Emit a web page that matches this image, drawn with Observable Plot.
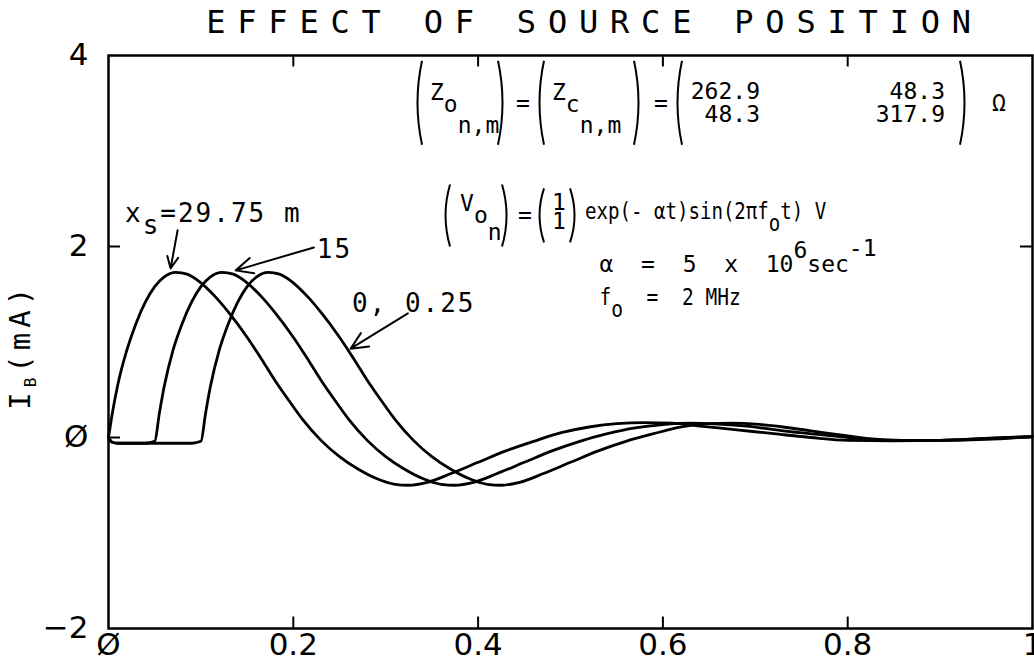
<!DOCTYPE html>
<html>
<head>
<meta charset="utf-8">
<script src="https://cdn.jsdelivr.net/npm/d3@7"></script>
<script src="https://cdn.jsdelivr.net/npm/@observablehq/plot@0.6"></script>
<style>
  body { margin: 0; background: #fff; }
  #chart svg { display: block; }
</style>
</head>
<body>
<div id="chart"></div>
<script>
// Induced current I_B (mA) versus time for three source positions x_s.
// Each series: [time, current] pairs.
const curve2975 = [
  [0.000, 0.00], [0.005, 0.30], [0.010, 0.55], [0.020, 0.92], [0.030, 1.20],
  [0.040, 1.42], [0.050, 1.58], [0.060, 1.68], [0.073, 1.73], [0.085, 1.71],
  [0.100, 1.62], [0.115, 1.48], [0.130, 1.31], [0.150, 1.05], [0.165, 0.83],
  [0.180, 0.60], [0.195, 0.39], [0.210, 0.19], [0.230, -0.03], [0.250, -0.20],
  [0.270, -0.33], [0.290, -0.43], [0.310, -0.49], [0.325, -0.50], [0.345, -0.47],
  [0.370, -0.38], [0.400, -0.26], [0.430, -0.14], [0.460, -0.04], [0.490, 0.05],
  [0.520, 0.11], [0.550, 0.145], [0.580, 0.155], [0.610, 0.15], [0.640, 0.12],
  [0.680, 0.08], [0.720, 0.04], [0.760, 0.00], [0.800, -0.03], [0.850, -0.035],
  [0.900, -0.03], [0.950, -0.01], [1.000, 0.01]
];
const curve15 = [
  [0.000, 0.00], [0.004, -0.05], [0.010, -0.06], [0.040, -0.06], [0.050, -0.04],
  [0.055, 0.25], [0.060, 0.52], [0.070, 0.92], [0.080, 1.20], [0.090, 1.42],
  [0.100, 1.58], [0.110, 1.68], [0.123, 1.73], [0.135, 1.71], [0.150, 1.62],
  [0.165, 1.48], [0.180, 1.31], [0.200, 1.05], [0.215, 0.83], [0.230, 0.60],
  [0.245, 0.39], [0.260, 0.19], [0.280, -0.03], [0.300, -0.20], [0.320, -0.33],
  [0.340, -0.43], [0.360, -0.49], [0.375, -0.50], [0.395, -0.47], [0.420, -0.38],
  [0.450, -0.26], [0.480, -0.14], [0.510, -0.04], [0.540, 0.04], [0.570, 0.10],
  [0.600, 0.135], [0.630, 0.15], [0.660, 0.14], [0.690, 0.12], [0.730, 0.07],
  [0.770, 0.03], [0.810, -0.01], [0.850, -0.03], [0.900, -0.03], [0.950, -0.01],
  [1.000, 0.01]
];
const curve0 = [
  [0.000, 0.00], [0.004, -0.05], [0.010, -0.06], [0.090, -0.06], [0.100, -0.04],
  [0.105, 0.25], [0.110, 0.52], [0.120, 0.92], [0.130, 1.20], [0.140, 1.42],
  [0.150, 1.58], [0.160, 1.68], [0.173, 1.73], [0.185, 1.71], [0.200, 1.62],
  [0.215, 1.48], [0.230, 1.31], [0.250, 1.05], [0.265, 0.83], [0.280, 0.60],
  [0.295, 0.39], [0.310, 0.19], [0.330, -0.03], [0.350, -0.20], [0.370, -0.33],
  [0.390, -0.43], [0.410, -0.49], [0.425, -0.50], [0.445, -0.47], [0.470, -0.38],
  [0.500, -0.26], [0.530, -0.14], [0.560, -0.04], [0.590, 0.04], [0.620, 0.11],
  [0.650, 0.145], [0.675, 0.15], [0.700, 0.14], [0.730, 0.11], [0.760, 0.07],
  [0.790, 0.03], [0.820, -0.01], [0.860, -0.03], [0.900, -0.03], [0.950, -0.02],
  [1.000, 0.01]
];
const sourceNames = ["29.75", "15", "0, 0.25"];

const xTicks = [0, 0.2, 0.4, 0.6, 0.8, 1];
const xTickLabels = ["Ø", "0.2", "0.4", "0.6", "0.8", "1"];
const yTicks = [-2, 0, 2, 4];
const yTickLabels = ["−2", "Ø", "2", "4"];

const impedanceMatrix = [["262.9", "48.3"], ["48.3", "317.9"]];
const sourceVector = ["1", "1"];
const titleText = "EFFECT OF SOURCE POSITION";

const rows = [curve2975, curve15, curve0].flatMap((c, k) =>
  c.map(([t, i]) => ({ t, i, source: sourceNames[k] }))
);

const plotFont = "'DejaVu Sans', sans-serif";
const monoFont = "'DejaVu Sans Mono', monospace";

const plot = Plot.plot({
  width: 1034,
  height: 667,
  marginLeft: 108,
  marginRight: 2,
  marginTop: 55,
  marginBottom: 39,
  x: { domain: [0, 1] },
  y: { domain: [-2, 4] },
  style: { fontFamily: plotFont, fontSize: "30px", color: "black", background: "white", overflow: "visible" },
  marks: [
    Plot.frame({ stroke: "black", strokeWidth: 2.5 }),
    // inward tick marks on all four sides
    Plot.ruleX(xTicks.slice(1, -1), { x: d => d, y1: -2, y2: -1.88, stroke: "black", strokeWidth: 2 }),
    Plot.ruleX(xTicks.slice(1, -1), { x: d => d, y1: 4, y2: 3.88, stroke: "black", strokeWidth: 2 }),
    Plot.ruleY([0, 2], { y: d => d, x1: 0, x2: 0.013, stroke: "black", strokeWidth: 2 }),
    Plot.ruleY([0, 2], { y: d => d, x1: 1, x2: 0.987, stroke: "black", strokeWidth: 2 }),
    Plot.axisX({
      ticks: xTicks, tickSize: 0, tickPadding: 4, label: null,
      tickFormat: d => xTickLabels[xTicks.indexOf(d)],
      fontSize: 31, fontFamily: plotFont
    }),
    Plot.axisY({
      ticks: yTicks, tickSize: 0, tickPadding: 20, label: null,
      tickFormat: d => yTickLabels[yTicks.indexOf(d)],
      fontSize: 31, fontFamily: plotFont
    }),
    Plot.line(rows, {
      x: "t", y: "i", z: "source", stroke: "black", strokeWidth: 2.8,
      curve: "monotone-x", strokeLinejoin: "round"
    }),
    Plot.arrow([
      { x1: 0.0748, y1: 2.17, x2: 0.0672, y2: 1.77 },
      { x1: 0.2223, y1: 1.99, x2: 0.1377, y2: 1.75 },
      { x1: 0.324, y1: 1.30, x2: 0.262, y2: 0.93 }
    ], { x1: "x1", y1: "y1", x2: "x2", y2: "y2", stroke: "black", strokeWidth: 2, headLength: 14, headAngle: 50 }),
    Plot.text([titleText], {
      frameAnchor: "top", lineAnchor: "middle", dy: -33, dx: 24, text: d => d,
      fontSize: 32, fontFamily: monoFont, fill: "black"
    })
  ]
});

document.getElementById("chart").appendChild(plot);

// Title letter spacing
d3.select(plot).selectAll("text").filter(function () { return this.textContent === titleText; })
  .style("letter-spacing", "11.8px");

// ---- annotations with sub/superscripts ----
const sxs = plot.scale("x"), sys = plot.scale("y");
const X = d3.scaleLinear(sxs.domain, sxs.range);
const Y = d3.scaleLinear(sys.domain, sys.range);
const svg = d3.select(plot);
const g = svg.append("g").attr("fill", "black").attr("font-family", monoFont);

// parts: [text, baselineShiftPx, fontSize]; k squeezes the text horizontally
function flow(x, y, parts, dx = 0, dy = 0, anchor = "start", k = 1, spacing = 0) {
  const t = g.append("text")
    .attr("transform", `translate(${X(x) + dx},${Y(y) + dy}) scale(${k},1)`)
    .attr("text-anchor", anchor)
    .attr("letter-spacing", spacing)
    .style("white-space", "pre");
  let prev = 0;
  for (const [s, shift, size] of parts) {
    t.append("tspan").attr("dy", shift - prev).attr("font-size", size).text(s);
    prev = shift;
  }
  return t;
}
// a column of stacked entries (matrix / vector column)
function column(x, y, entries, dx, dy, gap, anchor, size) {
  const t = g.append("text")
    .attr("transform", `translate(${X(x) + dx},${Y(y) + dy})`)
    .attr("text-anchor", anchor)
    .attr("font-size", size);
  entries.forEach((s, i) => t.append("tspan").attr("x", 0).attr("y", i * gap).text(s));
}
// tall thin bracket drawn as a bowed stroke
function paren(x, y, dx, side, height) {
  const cx = X(x) + dx, cy = Y(y);
  const bow = side === "(" ? -9 : 9;
  const h = height / 2;
  g.append("path")
    .attr("d", `M${cx},${cy - h} Q${cx + bow},${cy} ${cx},${cy + h}`)
    .attr("fill", "none").attr("stroke", "black").attr("stroke-width", 2);
}

const F = 23;
// (Z_o n,m) = (Z_c n,m) = (matrix) Ω
{
  const ax = 0.3355, ay = 3.50;
  paren(ax, ay, 4, "(", 84);
  flow(ax, ay, [["Z", 0, F], ["o", 12, F], ["n,m", 33, F]], 12, -3);
  paren(ax, ay, 80, ")", 84);
  flow(ax, ay, [["=", 0, F]], 98, 8);
  paren(ax, ay, 126, "(", 84);
  flow(ax, ay, [["Z", 0, F], ["c", 12, F], ["n,m", 33, F]], 134, -3);
  paren(ax, ay, 216, ")", 84);
  flow(ax, ay, [["=", 0, F]], 236, 8);
  paren(ax, ay, 264, "(", 84);
  column(ax, ay, impedanceMatrix.map(r => r[0]), 342, -4, 23, "end", F);
  column(ax, ay, impedanceMatrix.map(r => r[1]), 527, -4, 23, "end", F);
  paren(ax, ay, 542, ")", 84);
  flow(ax, ay, [["Ω", 0, F]], 574, 8);
}
// (V_o n) = (1 1) exp(-αt) sin(2π f_o t) V
{
  const ax = 0.368, ay = 2.32;
  paren(ax, ay, 2, "(", 62);
  flow(ax, ay, [["V", 0, F], ["o", 12, F], ["n", 29, F]], 12, -4);
  paren(ax, ay, 54, ")", 62);
  flow(ax, ay, [["=", 0, F]], 70, 8);
  paren(ax, ay, 96, "(", 54);
  column(ax, ay, sourceVector, 104, -5, 19, "start", F);
  paren(ax, ay, 122, ")", 54);
  flow(ax, ay, [["exp(- αt)sin(2πf", 0, F], ["o", 12, F], ["t) V", 0, F]], 137, 4, "start", 0.83);
}
// α = 5 x 10^6 sec^-1
flow(0.532, 1.73, [["α  =  5  x  10", 0, F], ["6", -14, F], ["sec", 0, F], ["-1", -16, F]], 0, 0, "start", 1);
// f_o = 2 MHz
flow(0.532, 1.38, [["f", 0, F], ["o", 12, F], ["  =  2 MHz", 0, F]], 0, 0, "start", 0.85);

// source position labels
flow(0.0184, 2.25, [["x", 0, 26], ["s", 12, 26], ["=29.75 m", 0, 26]], 0, 0, "start", 1, 2);
flow(0.226, 1.87, [["15", 0, 26]], 0, 0, "start", 1, 2);
flow(0.264, 1.31, [["0, 0.25", 0, 26]], 0, 0, "start", 1, 2);

// y-axis label I_B (mA)
{
  const t = g.append("text")
    .attr("transform", `translate(${X(0) - 78},${Y(0.95)}) rotate(-90)`)
    .attr("text-anchor", "middle")
    .attr("font-size", 29)
    .attr("letter-spacing", "5px");
  t.append("tspan").text("I");
  t.append("tspan").attr("dy", 6).attr("font-size", 16).text("B");
  t.append("tspan").attr("dy", -6).text("(mA)");
}
</script>
</body>
</html>
